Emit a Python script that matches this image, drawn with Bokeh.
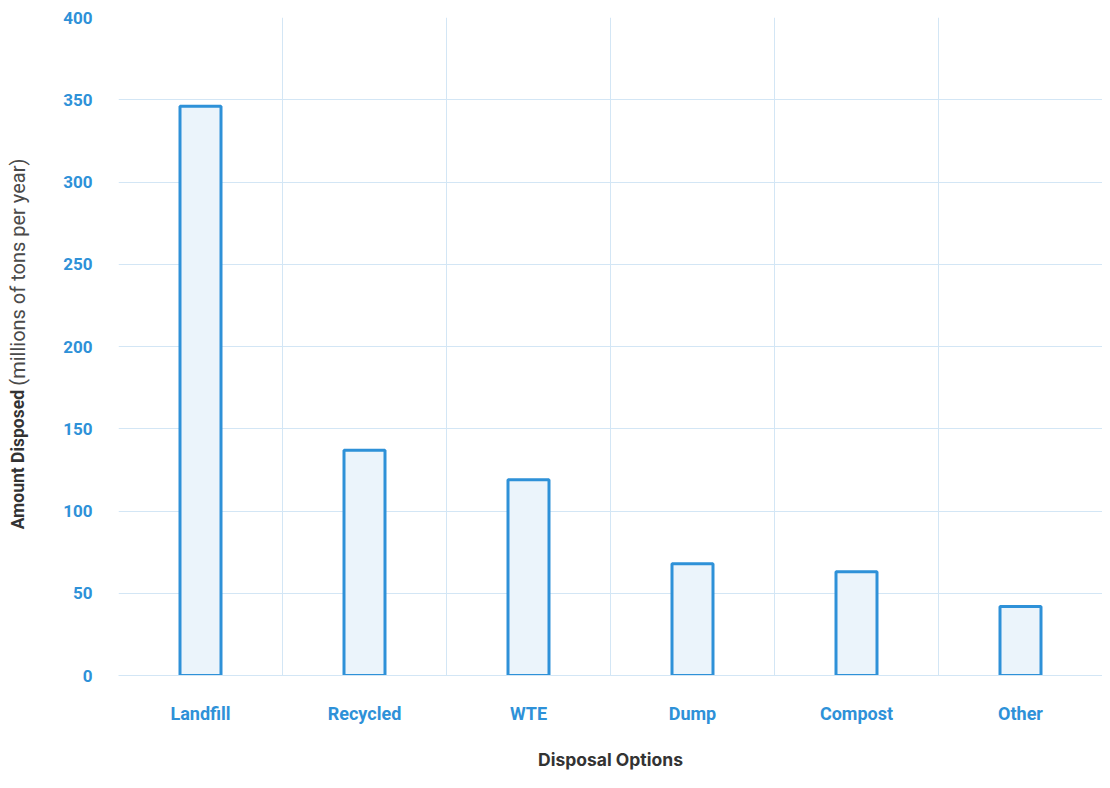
import math
from bokeh.plotting import figure
from bokeh.layouts import row
from bokeh.models import ColumnDataSource, FixedTicker, Range1d
from bokeh.core.properties import value
from bokeh.embed import file_html
from bokeh.resources import INLINE

categories = ["Landfill", "Recycled", "WTE", "Dump", "Compost", "Other"]
values = [346, 137, 119, 68, 63, 42]
y_ticks = [0, 50, 100, 150, 200, 250, 300, 350, 400]
y_title_bold = "Amount Disposed"
y_title_rest = "(millions of tons per year)"
x_title = "Disposal Options"

BLUE = "#2e91d8"
GRID = "#d3e6f5"
H = 772
LEFT_W = 40
SHIFT = 44  # empirical offset of the title strip

xs = [i + 0.5 for i in range(len(categories))]
src = ColumnDataSource(dict(x=xs, top=values, cat=categories))

# left strip holding the mixed-weight y-axis title
t = figure(width=LEFT_W, height=H, output_backend="svg", toolbar_location=None,
           x_range=Range1d(0, LEFT_W), y_range=Range1d(0, H),
           x_axis_type=None, y_axis_type=None,
           min_border_left=0, min_border_right=0, min_border_top=0, min_border_bottom=0)
t.outline_line_color = None
t.text(x=[17], y=[H - 393 - SHIFT], text=[y_title_bold], angle=math.pi / 2,
       text_font=value("Roboto"), text_font_style="bold", text_font_size="17.5px",
       text_color="#333333", text_align="right", text_baseline="middle")
t.text(x=[17], y=[H - 388 - SHIFT], text=[y_title_rest], angle=math.pi / 2,
       text_font=value("Roboto"), text_font_style="normal", text_font_size="20px",
       text_color="#4a4a4a", text_align="left", text_baseline="middle")

p = figure(width=1102 - LEFT_W, height=H, output_backend="svg", toolbar_location=None,
           x_range=Range1d(0, len(categories)), y_range=Range1d(0, 400),
           min_border_left=118 - LEFT_W, min_border_right=0, min_border_top=17,
           min_border_bottom=95)
p.outline_line_color = None

p.vbar(x="x", top="top", bottom=0, width=0.25, source=src,
       fill_color="#ebf4fb", line_color=BLUE, line_width=3)

# x axis
p.xaxis.ticker = FixedTicker(ticks=xs)
p.xaxis.major_label_overrides = {x: c for x, c in zip(xs, categories)}
p.xaxis.major_label_text_color = BLUE
p.xaxis.major_label_text_font = "Roboto"
p.xaxis.major_label_text_font_style = "bold"
p.xaxis.major_label_text_font_size = "18px"
p.xaxis.major_label_standoff = 27
p.xaxis.major_tick_out = 0
p.xaxis.major_tick_in = 0
p.xaxis.major_tick_line_color = None
p.xaxis.minor_tick_line_color = None
p.xaxis.axis_line_color = GRID
p.xaxis.axis_label = x_title
p.xaxis.axis_label_text_font = "Inter"
p.xaxis.axis_label_text_font_style = "bold"
p.xaxis.axis_label_text_font_size = "17.5px"
p.xaxis.axis_label_text_color = "#333333"
p.xaxis.axis_label_standoff = 22

# y axis
p.yaxis.ticker = FixedTicker(ticks=y_ticks)
p.yaxis.major_label_text_color = BLUE
p.yaxis.major_label_text_font = "Roboto"
p.yaxis.major_label_text_font_style = "bold"
p.yaxis.major_label_text_font_size = "17px"
p.yaxis.major_label_standoff = 26
p.yaxis.major_tick_out = 0
p.yaxis.major_tick_in = 0
p.yaxis.major_tick_line_color = None
p.yaxis.minor_tick_line_color = None
p.yaxis.axis_line_color = None

# grids
p.xgrid.ticker = FixedTicker(ticks=list(range(len(categories) + 1)))
p.xgrid.grid_line_color = GRID
p.ygrid.grid_line_color = GRID

layout = row(t, p, spacing=0)
open("out.html", "w").write(file_html(layout, INLINE))
